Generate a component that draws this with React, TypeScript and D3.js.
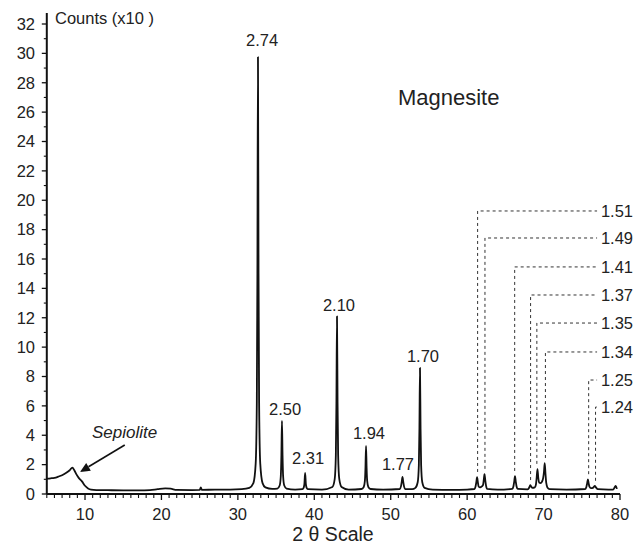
import React from 'react';
import * as d3 from 'd3';

// ---- data (2θ in degrees, counts in units of x10) ----
const spectrum: [number, number][] = [
  [5.0, 1.05], [5.5, 1.07], [6.0, 1.1], [6.5, 1.18], [7.0, 1.28], [7.5, 1.43], [8.0, 1.62], [8.35, 1.8], [8.6, 1.62],
  [8.9, 1.32], [9.2, 1.08], [9.6, 0.86], [10.0, 0.56], [10.4, 0.38], [10.8, 0.3], [11.5, 0.27], [13, 0.26], [15, 0.25],
  [17, 0.25], [18.5, 0.27], [19.5, 0.33], [20.5, 0.38], [21.2, 0.36], [22, 0.28], [24, 0.27], [25, 0.28], [25.15, 0.45],
  [25.3, 0.28], [27, 0.3], [29, 0.3], [30.5, 0.33], [31.5, 0.42],
  [32.03, 0.74], [32.33, 2.07], [32.48, 6.2], [32.555, 15.0], [32.63, 29.75], [32.705, 15.0], [32.78, 6.2], [32.93, 2.07],
  [33.23, 0.74], [33.6, 0.45], [34.5, 0.35],
  [35.17, 0.37], [35.47, 0.58], [35.62, 1.23], [35.695, 2.64], [35.77, 4.97], [35.845, 2.64], [35.92, 1.23], [36.07, 0.58],
  [36.37, 0.37], [37.5, 0.3],
  [38.45, 0.33], [38.6, 0.42], [38.7, 0.65], [38.8, 1.43], [38.9, 0.65], [39.0, 0.42], [39.15, 0.33], [41, 0.3],
  [42.37, 0.48], [42.67, 1.01], [42.82, 2.66], [42.895, 6.2], [42.97, 12.1], [43.045, 6.2], [43.12, 2.66], [43.27, 1.01],
  [43.57, 0.48], [44.5, 0.3],
  [46.17, 0.34], [46.47, 0.48], [46.62, 0.89], [46.695, 1.79], [46.77, 3.27], [46.845, 1.79], [46.92, 0.89], [47.07, 0.48],
  [47.37, 0.34], [49, 0.3],
  [51.19, 0.34], [51.34, 0.52], [51.44, 0.82], [51.54, 1.16], [51.64, 0.82], [51.74, 0.52], [51.89, 0.34], [52.8, 0.33],
  [53.23, 0.42], [53.53, 0.8], [53.68, 1.96], [53.755, 4.44], [53.83, 8.58], [53.905, 4.44], [53.98, 1.96], [54.13, 0.8],
  [54.43, 0.42], [55.5, 0.3], [58, 0.28], [60, 0.3],
  [60.95, 0.34], [61.1, 0.51], [61.2, 0.81], [61.3, 1.15], [61.4, 0.81], [61.5, 0.51], [61.7, 0.45], [61.92, 0.52],
  [62.07, 0.6], [62.17, 0.94], [62.27, 1.36], [62.37, 0.94], [62.47, 0.57], [62.62, 0.35], [64, 0.3],
  [65.91, 0.35], [66.06, 0.53], [66.16, 0.85], [66.26, 1.22], [66.36, 0.85], [66.46, 0.53], [66.61, 0.35],
  [67.9, 0.32], [68.05, 0.38], [68.15, 0.48], [68.25, 0.6], [68.38, 0.5], [68.55, 0.42], [68.85, 0.45], [69.0, 0.65],
  [69.1, 1.14], [69.2, 1.7], [69.3, 1.14], [69.42, 0.78], [69.6, 0.74], [69.8, 0.85], [69.95, 1.1], [70.05, 1.5],
  [70.15, 2.1], [70.25, 1.38], [70.35, 0.75], [70.5, 0.45], [70.8, 0.33], [73, 0.3],
  [75.45, 0.34], [75.6, 0.48], [75.7, 0.72], [75.8, 1.0], [75.9, 0.72], [76.0, 0.5], [76.2, 0.4], [76.45, 0.42],
  [76.6, 0.5], [76.7, 0.55], [76.85, 0.45], [77.1, 0.33], [78.5, 0.3],
  [79.1, 0.3], [79.3, 0.45], [79.45, 0.55], [79.6, 0.35],
];

// d-spacing labels placed above peaks (label anchor in data coords)
const peakLabelText = ['2.74', '2.50', '2.31', '2.10', '1.94', '1.77', '1.70'];
const peakLabelTheta = [33.16, 36.17, 39.18, 43.23, 47.16, 50.95, 54.22];
const peakLabelCounts = [30.5, 5.38, 2.04, 12.45, 3.74, 1.63, 8.99];

// d-spacing labels with dashed leaders (right side)
const leaderText = ['1.51', '1.49', '1.41', '1.37', '1.35', '1.34', '1.25', '1.24'];
const leaderTheta = [61.37, 62.33, 66.22, 68.3, 69.12, 70.24, 75.9, 76.8];
const leaderPeak = [1.15, 1.36, 1.22, 0.6, 1.7, 2.1, 1.0, 0.55];
const leaderLevel = [19.27, 17.43, 15.46, 13.55, 11.64, 9.67, 7.76, 5.92];

const xMajorTicks = [10, 20, 30, 40, 50, 60, 70, 80];
const yMajorTicks = [0, 2, 4, 6, 8, 10, 12, 14, 16, 18, 20, 22, 24, 26, 28, 30, 32];

const W = 643;
const H = 553;
const FONT = '"Liberation Sans", Arial, Helvetica, sans-serif';
const TEXT = '#222';
const FS = 16.5;

export default function App() {
  const x = d3.scaleLinear().domain([5, 80]).range([46.8, 620]);
  const y = d3.scaleLinear().domain([0, 32]).range([494, 24]);

  const line = d3
    .line<[number, number]>()
    .x((d) => x(d[0]))
    .y((d) => y(d[1]))
    .curve(d3.curveMonotoneX);

  const xMinor = d3.range(5, 81, 1).filter((v) => !xMajorTicks.includes(v));
  const yMinor = d3.range(1, 33, 2);

  const labelX = x(77.5);
  const lineEndX = x(77.0);

  // arrow for Sepiolite
  const ax0 = x(15.2), ay0 = y(3.34);
  const ax1 = x(9.34), ay1 = y(1.5);
  const ang = Math.atan2(ay1 - ay0, ax1 - ax0);
  const ah = 10, aw = 4.5;
  const bx = ax1 - ah * Math.cos(ang), by = ay1 - ah * Math.sin(ang);
  const head = [
    [ax1, ay1],
    [bx + aw * Math.sin(ang), by - aw * Math.cos(ang)],
    [bx - aw * Math.sin(ang), by + aw * Math.cos(ang)],
  ];

  return (
    <svg width={W} height={H} style={{ position: 'absolute', left: 0, top: 0, background: '#fff' }} fontFamily={FONT}>
      {/* spectrum */}
      <path d={line(spectrum) || ''} fill="none" stroke="#111" strokeWidth={1.8} strokeLinejoin="round" />

      {/* axes */}
      <line x1={x(5)} x2={x(80)} y1={y(0)} y2={y(0)} stroke="#111" strokeWidth={2} />
      <line x1={x(5)} x2={x(5)} y1={y(0)} y2={y(32.75)} stroke="#111" strokeWidth={2} />

      {xMajorTicks.map((t) => (
        <g key={'xt' + t}>
          <line x1={x(t)} x2={x(t)} y1={y(0)} y2={y(0) + 6} stroke="#111" strokeWidth={1.3} />
          <text x={x(t)} y={520} textAnchor="middle" fontSize={FS} fill={TEXT}>{t}</text>
        </g>
      ))}
      {xMinor.map((t) => (
        <line key={'xm' + t} x1={x(t)} x2={x(t)} y1={y(0)} y2={y(0) + 4} stroke="#111" strokeWidth={1.1} />
      ))}
      {yMajorTicks.map((t) => (
        <g key={'yt' + t}>
          <line x1={x(5) - 5} x2={x(5)} y1={y(t)} y2={y(t)} stroke="#111" strokeWidth={1.3} />
          <text x={35} y={y(t)} dy="0.35em" textAnchor="end" fontSize={FS} fill={TEXT}>{t}</text>
        </g>
      ))}
      {yMinor.map((t) => (
        <line key={'ym' + t} x1={x(5) - 3} x2={x(5)} y1={y(t)} y2={y(t)} stroke="#111" strokeWidth={1.1} />
      ))}

      <text x={55} y={24} fontSize={FS} fill={TEXT}>Counts (x10 )</text>
      <text x={333} y={541} textAnchor="middle" fontSize={19.5} fill={TEXT}>2 θ Scale</text>
      <text x={x(50.94)} y={y(26.5)} fontSize={22} fill={TEXT}>Magnesite</text>

      {/* peak labels */}
      {peakLabelText.map((t, i) => (
        <text key={'pl' + t} x={x(peakLabelTheta[i])} y={y(peakLabelCounts[i])} textAnchor="middle" fontSize={FS} fill={TEXT}>
          {t}
        </text>
      ))}

      {/* leader labels */}
      {leaderText.map((t, i) => {
        const lx = x(leaderTheta[i]);
        const ly = y(leaderLevel[i]);
        return (
          <g key={'ld' + t}>
            <path
              d={`M${lx},${y(leaderPeak[i] + 0.35)} L${lx},${ly} L${lineEndX},${ly}`}
              fill="none"
              stroke="#333"
              strokeWidth={1}
              strokeDasharray="3,3"
            />
            <text x={labelX} y={ly} dy="0.35em" fontSize={FS} fill={TEXT}>{t}</text>
          </g>
        );
      })}

      {/* Sepiolite annotation */}
      <text x={x(15.17)} y={y(3.81)} textAnchor="middle" fontSize={17} fontStyle="italic" fill={TEXT}>Sepiolite</text>
      <line x1={ax0} y1={ay0} x2={bx} y2={by} stroke="#111" strokeWidth={1.6} />
      <polygon points={head.map((p) => p.join(',')).join(' ')} fill="#111" />
    </svg>
  );
}
